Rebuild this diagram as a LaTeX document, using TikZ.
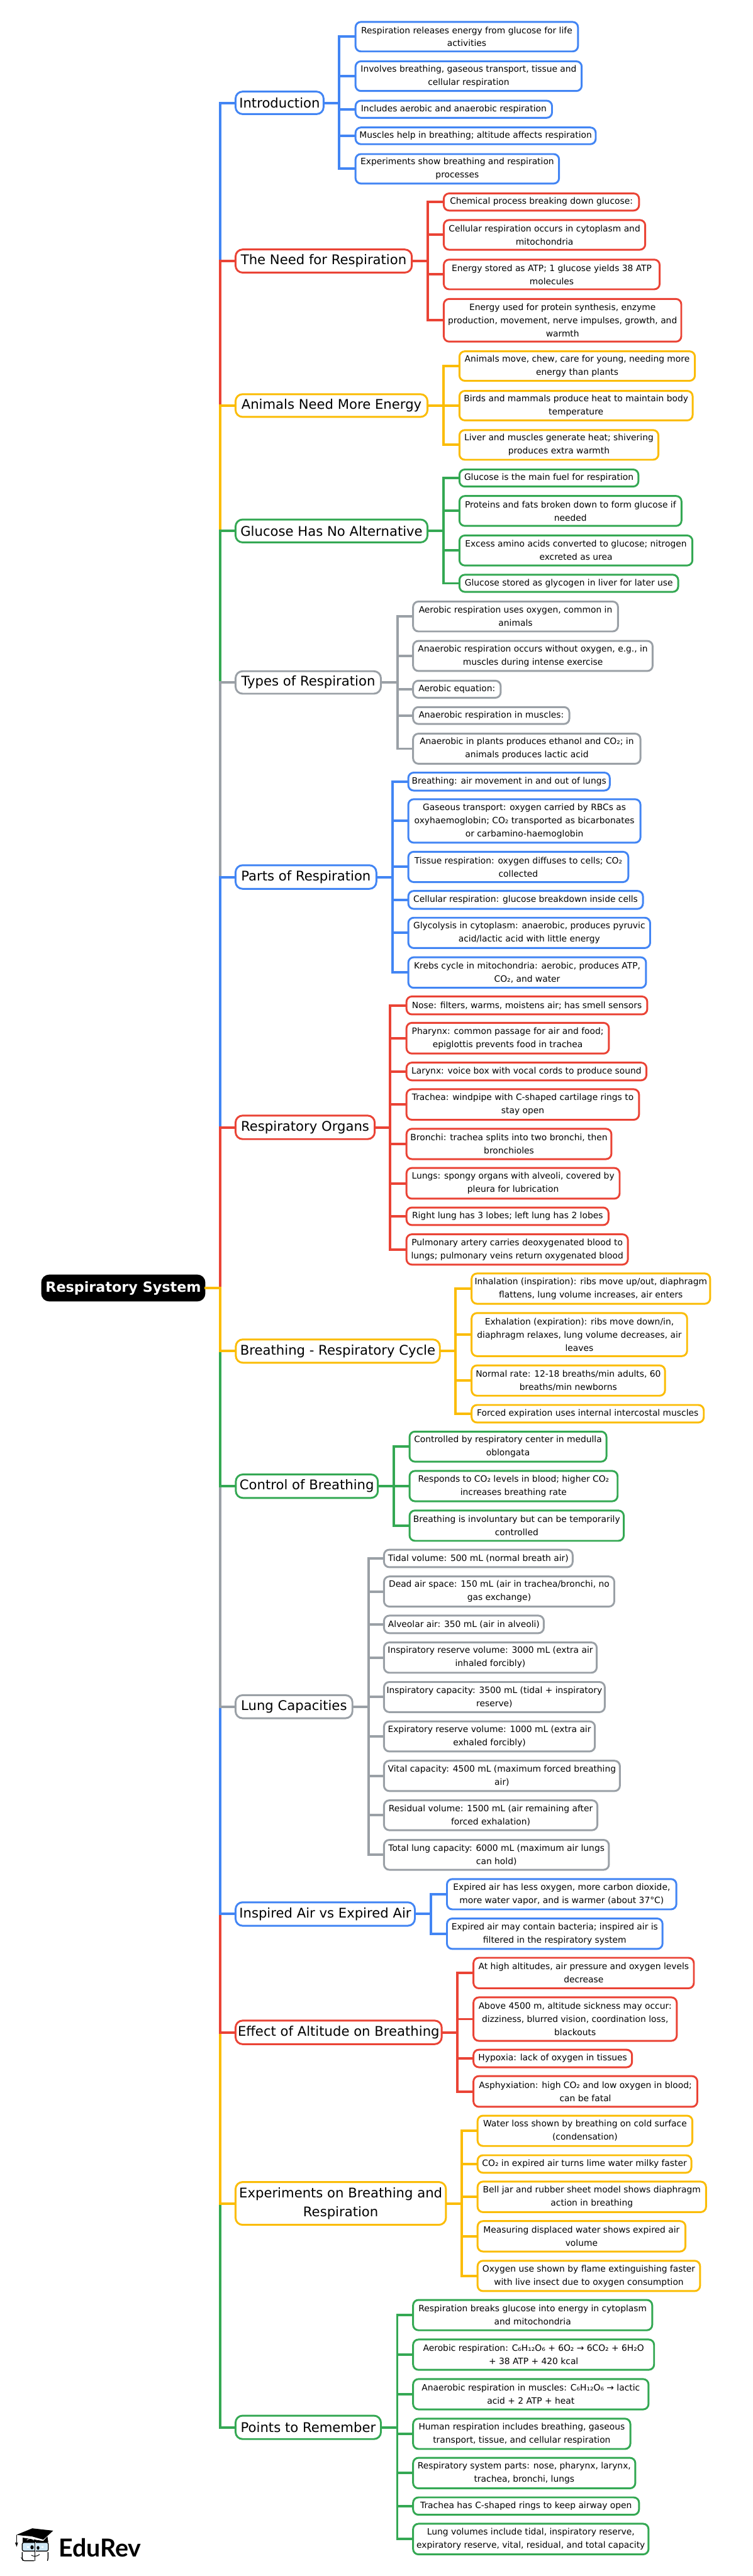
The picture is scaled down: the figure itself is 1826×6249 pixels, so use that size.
\documentclass[tikz,border=0pt]{standalone}
\usepackage{fontspec}
\setmainfont{DejaVu Sans}
\newfontfamily\logofont{Lato}
\definecolor{cblue}{HTML}{4285F4}
\definecolor{cred}{HTML}{EA4335}
\definecolor{cyellow}{HTML}{FBBC04}
\definecolor{cgreen}{HTML}{34A853}
\definecolor{cgray}{HTML}{9AA0A6}
\definecolor{clens}{HTML}{CFE8F7}
\tikzset{
  anybox/.style={draw,line width=4.5pt,rounded corners=13pt,fill=white,inner sep=0pt,outer sep=0pt,align=center,text=black},
  leafbox/.style={anybox,font=\fontsize{21.1}{32}\selectfont},
  headbox/.style={anybox,rounded corners=17pt,font=\fontsize{32.3}{47}\selectfont},
  rootbox/.style={anybox,rounded corners=17pt,draw=black,fill=black,text=white,font=\fontsize{34}{47}\selectfont\bfseries},
  branch/.style={line width=6pt,line join=miter},
}
\newcommand{\mapbox}[7]{% style, name, x1, x2, y1, y2, text (outer extents in pixels)
  \pgfmathsetmacro\mbx{(#3+#4)/2}%
  \pgfmathsetmacro\mby{(#5+#6)/2}%
  \pgfmathsetmacro\mbw{#4-#3-2.5}%
  \pgfmathsetmacro\mbh{#6-#5-2.5}%
  \node[#1,minimum width=\mbw pt,minimum height=\mbh pt] (#2) at (\mbx,\mby) {#7};}
\newcommand{\twig}[4]{\draw[branch,#1] (#2.east) -- (#3 |- #2.east) -- (#3 |- #4.west) -- (#4.west);}
\begin{document}
\begin{tikzpicture}[x=1pt,y=-1pt]
\useasboundingbox (0,0) rectangle (1826,6249);
\fill[white] (0,0) rectangle (1826,6249);

\mapbox{rootbox}{root}{101}{497}{3093}{3156}{Respiratory System}
\coordinate (trunk) at (533.5,3124);

% Introduction
\mapbox{headbox,draw=cblue}{intro}{570}{786}{221}{278}{Introduction}
\coordinate (sintro) at (823,250);
\mapbox{leafbox,draw=cblue}{intro1}{861}{1403}{52}{126}{Respiration releases energy from glucose for life\\activities}
\mapbox{leafbox,draw=cblue}{intro2}{861}{1412}{147.5}{222}{Involves breathing, gaseous transport, tissue and\\cellular respiration}
\mapbox{leafbox,draw=cblue}{intro3}{861}{1340}{243}{287}{Includes aerobic and anaerobic respiration}
\mapbox{leafbox,draw=cblue}{intro4}{861}{1446}{308}{351}{Muscles help in breathing; altitude affects respiration}
\mapbox{leafbox,draw=cblue}{intro5}{861}{1357}{372.5}{446.5}{Experiments show breathing and respiration\\processes}

% The Need for Respiration
\mapbox{headbox,draw=cred}{need}{570}{1000}{604}{662.5}{The Need for Respiration}
\coordinate (sneed) at (1038,633);
\mapbox{leafbox,draw=cred}{need1}{1075}{1551}{468}{512}{Chemical process breaking down glucose:}
\mapbox{leafbox,draw=cred}{need2}{1075}{1566}{532.5}{607}{Cellular respiration occurs in cytoplasm and\\mitochondria}
\mapbox{leafbox,draw=cred}{need3}{1075}{1601}{628.5}{703}{Energy stored as ATP; 1 glucose yields 38 ATP\\molecules}
\mapbox{leafbox,draw=cred}{need4}{1075}{1653.5}{724}{830}{Energy used for protein synthesis, enzyme\\production, movement, nerve impulses, growth, and\\warmth}

% Animals
\mapbox{headbox,draw=cyellow}{anim}{570}{1038}{955}{1012.6}{Animals Need More Energy}
\coordinate (sanim) at (1075,984);
\mapbox{leafbox,draw=cyellow}{anim1}{1113}{1686.5}{851}{925}{Animals move, chew, care for young, needing more\\energy than plants}
\mapbox{leafbox,draw=cyellow}{anim2}{1113}{1681}{947}{1021}{Birds and mammals produce heat to maintain body\\temperature}
\mapbox{leafbox,draw=cyellow}{anim3}{1113}{1598}{1042}{1116.5}{Liver and muscles generate heat; shivering\\produces extra warmth}

% Glucose
\mapbox{headbox,draw=cgreen}{gluc}{570}{1038}{1259}{1317}{Glucose Has No Alternative}
\coordinate (sgluc) at (1075,1288);
\mapbox{leafbox,draw=cgreen}{gluc1}{1113}{1549.5}{1137.6}{1181.6}{Glucose is the main fuel for respiration}
\mapbox{leafbox,draw=cgreen}{gluc2}{1113}{1654}{1202}{1277}{Proteins and fats broken down to form glucose if\\needed}
\mapbox{leafbox,draw=cgreen}{gluc3}{1113}{1680.5}{1297.7}{1373}{Excess amino acids converted to glucose; nitrogen\\excreted as urea}
\mapbox{leafbox,draw=cgreen}{gluc4}{1113}{1646}{1393}{1437}{Glucose stored as glycogen in liver for later use}

% Types
\mapbox{headbox,draw=cgray}{types}{570}{925}{1627}{1684}{Types of Respiration}
\coordinate (stypes) at (963.5,1655);
\mapbox{leafbox,draw=cgray}{types1}{1000.6}{1500}{1458}{1533}{Aerobic respiration uses oxygen, common in\\animals}
\mapbox{leafbox,draw=cgray}{types2}{1000.6}{1584}{1553.5}{1629}{Anaerobic respiration occurs without oxygen, e.g., in\\muscles during intense exercise}
\mapbox{leafbox,draw=cgray}{types3}{1000.6}{1215.5}{1650}{1694}{Aerobic equation:}
\mapbox{leafbox,draw=cgray}{types4}{1000.6}{1382}{1714}{1757.5}{Anaerobic respiration in muscles:}
\mapbox{leafbox,draw=cgray}{types5}{1000.6}{1554.5}{1778.5}{1854}{Anaerobic in plants produces ethanol and CO₂; in\\animals produces lactic acid}

% Parts
\mapbox{headbox,draw=cblue}{parts}{570}{914}{2097.7}{2157.4}{Parts of Respiration}
\coordinate (sparts) at (951.6,2127);
\mapbox{leafbox,draw=cblue}{parts1}{989}{1480}{1873}{1919}{Breathing: air movement in and out of lungs}
\mapbox{leafbox,draw=cblue}{parts2}{989}{1554.5}{1937.6}{2045.4}{Gaseous transport: oxygen carried by RBCs as\\oxyhaemoglobin; CO₂ transported as bicarbonates\\or carbamino-haemoglobin}
\mapbox{leafbox,draw=cblue}{parts3}{989}{1525}{2065}{2141}{Tissue respiration: oxygen diffuses to cells; CO₂\\collected}
\mapbox{leafbox,draw=cblue}{parts4}{989}{1560.5}{2160}{2206}{Cellular respiration: glucose breakdown inside cells}
\mapbox{leafbox,draw=cblue}{parts5}{989}{1578}{2225}{2301}{Glycolysis in cytoplasm: anaerobic, produces pyruvic\\acid/lactic acid with little energy}
\mapbox{leafbox,draw=cblue}{parts6}{989}{1568}{2321}{2397.5}{Krebs cycle in mitochondria: aerobic, produces ATP,\\CO₂, and water}

% Organs
\mapbox{headbox,draw=cred}{org}{570}{910}{2705}{2764.5}{Respiratory Organs}
\coordinate (sorg) at (946.5,2735);
\mapbox{leafbox,draw=cred}{org1}{984.6}{1571}{2416}{2462}{Nose: filters, warms, moistens air; has smell sensors}
\mapbox{leafbox,draw=cred}{org2}{984.6}{1478}{2480}{2557}{Pharynx: common passage for air and food;\\epiglottis prevents food in trachea}
\mapbox{leafbox,draw=cred}{org3}{984.6}{1569}{2576.5}{2622}{Larynx: voice box with vocal cords to produce sound}
\mapbox{leafbox,draw=cred}{org4}{984.6}{1551}{2641}{2717.6}{Trachea: windpipe with C-shaped cartilage rings to\\stay open}
\mapbox{leafbox,draw=cred}{org5}{984.6}{1484}{2737}{2813}{Bronchi: trachea splits into two bronchi, then\\bronchioles}
\mapbox{leafbox,draw=cred}{org6}{984.6}{1504}{2832}{2909}{Lungs: spongy organs with alveoli, covered by\\pleura for lubrication}
\mapbox{leafbox,draw=cred}{org7}{984.6}{1477}{2928}{2973}{Right lung has 3 lobes; left lung has 2 lobes}
\mapbox{leafbox,draw=cred}{org8}{984.6}{1524}{2993}{3069}{Pulmonary artery carries deoxygenated blood to\\lungs; pulmonary veins return oxygenated blood}

% Breathing
\mapbox{headbox,draw=cyellow}{brea}{570.6}{1068}{3248}{3307}{Breathing - Respiratory Cycle}
\coordinate (sbrea) at (1105,3277);
\mapbox{leafbox,draw=cyellow}{brea1}{1142.5}{1723.5}{3088}{3164}{Inhalation (inspiration): ribs move up/out, diaphragm\\flattens, lung volume increases, air enters}
\mapbox{leafbox,draw=cyellow}{brea2}{1142.5}{1667.6}{3184}{3291}{Exhalation (expiration): ribs move down/in,\\diaphragm relaxes, lung volume decreases, air\\leaves}
\mapbox{leafbox,draw=cyellow}{brea3}{1142.5}{1614}{3311}{3387}{Normal rate: 12-18 breaths/min adults, 60\\breaths/min newborns}
\mapbox{leafbox,draw=cyellow}{brea4}{1142.5}{1708}{3407}{3452}{Forced expiration uses internal intercostal muscles}

% Control
\mapbox{headbox,draw=cgreen}{ctrl}{570.6}{917.7}{3575.5}{3635}{Control of Breathing}
\coordinate (sctrl) at (955,3605);
\mapbox{leafbox,draw=cgreen}{ctrl1}{992}{1472}{3471.5}{3547}{Controlled by respiratory center in medulla\\oblongata}
\mapbox{leafbox,draw=cgreen}{ctrl2}{992}{1499}{3567}{3643}{Responds to CO₂ levels in blood; higher CO₂\\increases breathing rate}
\mapbox{leafbox,draw=cgreen}{ctrl3}{992}{1514}{3663}{3739}{Breathing is involuntary but can be temporarily\\controlled}

% Lung capacities
\mapbox{headbox,draw=cgray}{lung}{570}{856}{4111}{4169.4}{Lung Capacities}
\coordinate (slung) at (893.5,4140);
\mapbox{leafbox,draw=cgray}{lung1}{930}{1390}{3758}{3803}{Tidal volume: 500 mL (normal breath air)}
\mapbox{leafbox,draw=cgray}{lung2}{930}{1491}{3823}{3898.5}{Dead air space: 150 mL (air in trachea/bronchi, no\\gas exchange)}
\mapbox{leafbox,draw=cgray}{lung3}{930}{1320}{3918}{3963}{Alveolar air: 350 mL (air in alveoli)}
\mapbox{leafbox,draw=cgray}{lung4}{930}{1448.4}{3983}{4059}{Inspiratory reserve volume: 3000 mL (extra air\\inhaled forcibly)}
\mapbox{leafbox,draw=cgray}{lung5}{930}{1468}{4079}{4154.6}{Inspiratory capacity: 3500 mL (tidal + inspiratory\\reserve)}
\mapbox{leafbox,draw=cgray}{lung6}{930}{1444}{4174.5}{4250}{Expiratory reserve volume: 1000 mL (extra air\\exhaled forcibly)}
\mapbox{leafbox,draw=cgray}{lung7}{930}{1504.6}{4270}{4346}{Vital capacity: 4500 mL (maximum forced breathing\\air)}
\mapbox{leafbox,draw=cgray}{lung8}{930}{1450}{4366}{4441}{Residual volume: 1500 mL (air remaining after\\forced exhalation)}
\mapbox{leafbox,draw=cgray}{lung9}{930}{1478}{4462}{4537}{Total lung capacity: 6000 mL (maximum air lungs\\can hold)}

% Inspired
\mapbox{headbox,draw=cblue}{insp}{570}{1007.4}{4613.4}{4672.8}{Inspired Air vs Expired Air}
\coordinate (sinsp) at (1045.5,4643);
\mapbox{leafbox,draw=cblue}{insp1}{1082.7}{1641.6}{4557}{4633}{Expired air has less oxygen, more carbon dioxide,\\more water vapor, and is warmer (about 37°C)}
\mapbox{leafbox,draw=cblue}{insp2}{1082.7}{1608}{4652.7}{4729}{Expired air may contain bacteria; inspired air is\\filtered in the respiratory system}

% Altitude
\mapbox{headbox,draw=cred}{alti}{570}{1072.5}{4900.4}{4960}{Effect of Altitude on Breathing}
\coordinate (salti) at (1109,4930);
\mapbox{leafbox,draw=cred}{alti1}{1147}{1684}{4748}{4824.5}{At high altitudes, air pressure and oxygen levels\\decrease}
\mapbox{leafbox,draw=cred}{alti2}{1147}{1642.5}{4844}{4952}{Above 4500 m, altitude sickness may occur:\\dizziness, blurred vision, coordination loss,\\blackouts}
\mapbox{leafbox,draw=cred}{alti3}{1147}{1534}{4971}{5016}{Hypoxia: lack of oxygen in tissues}
\mapbox{leafbox,draw=cred}{alti4}{1147}{1692.4}{5035}{5112}{Asphyxiation: high CO₂ and low oxygen in blood;\\can be fatal}

% Experiments
\mapbox{headbox,draw=cyellow}{expt}{570}{1082.7}{5292}{5398.3}{Experiments on Breathing and\\Respiration}
\coordinate (sexpt) at (1120,5345);
\mapbox{leafbox,draw=cyellow}{expt1}{1157}{1680.5}{5131}{5207}{Water loss shown by breathing on cold surface\\(condensation)}
\mapbox{leafbox,draw=cyellow}{expt2}{1157}{1678}{5227}{5272}{CO₂ in expired air turns lime water milky faster}
\mapbox{leafbox,draw=cyellow}{expt3}{1157}{1713.5}{5291}{5367.5}{Bell jar and rubber sheet model shows diaphragm\\action in breathing}
\mapbox{leafbox,draw=cyellow}{expt4}{1157}{1663.6}{5386.8}{5463}{Measuring displaced water shows expired air\\volume}
\mapbox{leafbox,draw=cyellow}{expt5}{1157}{1699}{5483}{5559}{Oxygen use shown by flame extinguishing faster\\with live insect due to oxygen consumption}

% Points
\mapbox{headbox,draw=cgreen}{pts}{570}{925}{5858.7}{5918}{Points to Remember}
\coordinate (spts) at (963.4,5888);
\mapbox{leafbox,draw=cgreen}{pts1}{1000.6}{1583}{5578}{5654}{Respiration breaks glucose into energy in cytoplasm\\and mitochondria}
\mapbox{leafbox,draw=cgreen}{pts2}{1000.6}{1587.5}{5674}{5750}{Aerobic respiration: C₆H₁₂O₆ + 6O₂ → 6CO₂ + 6H₂O\\+ 38 ATP + 420 kcal}
\mapbox{leafbox,draw=cgreen}{pts3}{1000.6}{1574}{5770}{5846}{Anaerobic respiration in muscles: C₆H₁₂O₆ → lactic\\acid + 2 ATP + heat}
\mapbox{leafbox,draw=cgreen}{pts4}{1000.6}{1530}{5866}{5942}{Human respiration includes breathing, gaseous\\transport, tissue, and cellular respiration}
\mapbox{leafbox,draw=cgreen}{pts5}{1000.6}{1542}{5961}{6037.5}{Respiratory system parts: nose, pharynx, larynx,\\trachea, bronchi, lungs}
\mapbox{leafbox,draw=cgreen}{pts6}{1000.6}{1551}{6057}{6101.6}{Trachea has C-shaped rings to keep airway open}
\mapbox{leafbox,draw=cgreen}{pts7}{1000.6}{1574}{6121}{6197.7}{Lung volumes include tidal, inspiratory reserve,\\expiratory reserve, vital, residual, and total capacity}

% connectors: head to leaves
\foreach \n in {1,...,5} {\twig{cblue}{intro}{sintro}{intro\n}}
\foreach \n in {1,...,4} {\twig{cred}{need}{sneed}{need\n}}
\foreach \n in {1,...,3} {\twig{cyellow}{anim}{sanim}{anim\n}}
\foreach \n in {1,...,4} {\twig{cgreen}{gluc}{sgluc}{gluc\n}}
\foreach \n in {1,...,5} {\twig{cgray}{types}{stypes}{types\n}}
\foreach \n in {1,...,6} {\twig{cblue}{parts}{sparts}{parts\n}}
\foreach \n in {1,...,8} {\twig{cred}{org}{sorg}{org\n}}
\foreach \n in {1,...,4} {\twig{cyellow}{brea}{sbrea}{brea\n}}
\foreach \n in {1,...,3} {\twig{cgreen}{ctrl}{sctrl}{ctrl\n}}
\foreach \n in {1,...,9} {\twig{cgray}{lung}{slung}{lung\n}}
\foreach \n in {1,2} {\twig{cblue}{insp}{sinsp}{insp\n}}
\foreach \n in {1,...,4} {\twig{cred}{alti}{salti}{alti\n}}
\foreach \n in {1,...,5} {\twig{cyellow}{expt}{sexpt}{expt\n}}
\foreach \n in {1,...,7} {\twig{cgreen}{pts}{spts}{pts\n}}

% connectors: root to heads, those nearest the root last
\twig{cblue}{root}{trunk}{intro}
\twig{cred}{root}{trunk}{need}
\twig{cyellow}{root}{trunk}{anim}
\twig{cgreen}{root}{trunk}{gluc}
\twig{cgray}{root}{trunk}{types}
\twig{cblue}{root}{trunk}{parts}
\twig{cred}{root}{trunk}{org}
\twig{cgreen}{root}{trunk}{pts}
\twig{cyellow}{root}{trunk}{expt}
\twig{cred}{root}{trunk}{alti}
\twig{cblue}{root}{trunk}{insp}
\twig{cgray}{root}{trunk}{lung}
\twig{cgreen}{root}{trunk}{ctrl}
\twig{cyellow}{root}{trunk}{brea}

% logo
\node[anchor=base west,inner sep=0pt,font=\logofont\fontsize{60}{60}\selectfont\bfseries,text=black] (brand) at (142,6202) {EduRev};
\begin{scope}[shift={(0,5950)}]
  \fill[black] (55,206) -- (105,214) -- (115,203) -- (117,217) -- (55,217) -- cycle;
  \fill[black] (40,199) -- (78.3,183.3) -- (129,189) -- (105,210.7) -- (76.7,202.7) -- (55,201) -- cycle;
  \draw[white,line width=1pt] (65,212) .. controls (70,207) and (78,207) .. (82,212);
  \draw[white,line width=1pt] (89,212) .. controls (92,209) and (96,209) .. (100,212);
  \draw[black,line width=1.2pt] (40,199) -- (40,218);
  \fill[black] (36.5,218) -- (43.5,218) -- (40.5,228) -- cycle;
  \draw[black,line width=2pt,fill=clens,rounded corners=4pt] (54,217.5) rectangle (117,238.5);
  \draw[black,line width=2pt,rounded corners=4pt] (54,241) -- (54,258) -- (56,262) -- (83,262);
  \draw[black,line width=2pt,rounded corners=4pt] (116.5,241) -- (116.5,258) -- (115,262);
  \draw[black,line width=2pt] (85,216) -- (85,263);
  \draw[white,line width=.8pt] (86.5,216) -- (86.5,240);
  \fill[black] (77.7,229.3) ellipse [x radius=4,y radius=5];
  \fill[black] (92.3,230.7) ellipse [x radius=3.3,y radius=4.5];
  \fill[white] (65,227) rectangle (70,231);
  \fill[white] (100,227) rectangle (105,231);
  \draw[black,line width=1.5pt] (76,248.5) .. controls (82,252) and (90,252) .. (96,246.5);
\end{scope}
\end{tikzpicture}
\end{document}
